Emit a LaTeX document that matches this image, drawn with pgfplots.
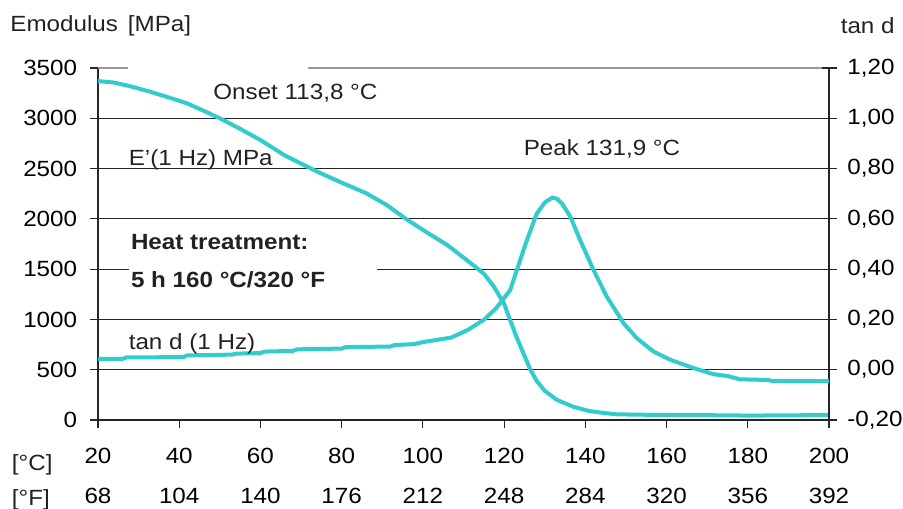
\documentclass[border=0pt]{standalone}
\usepackage{pgfplots}
\pgfplotsset{compat=1.18}
\usepackage{fontspec}
\setmainfont{Liberation Sans}[FakeStretch=1.1]
\definecolor{turq}{RGB}{51,204,204}
\definecolor{ink}{RGB}{34,34,34}
\newcommand\fs{\fontsize{11}{13}\selectfont}

% E' (1 Hz) in MPa
\pgfplotstableread{
T E
20 3370
24 3355
28 3318
33 3262
38 3200
42 3147
46 3075
50 3000
55 2895
60 2784
66 2630
70 2550
74 2469
80 2360
86 2256
91 2140
96 1995
101 1865
106 1740
110 1615
113 1520
115 1455
117.5 1325
120 1155
123 830
126.5 497
128 390
130 290
133 200
137 132
141 89
145 68
148 56
155 52
160 50
170 48
180 44
190 46
200 50
}\emod

% tan d (1 Hz)
\pgfplotstableread{
T tand
20 0.043
26 0.043
27 0.049
41 0.050
42 0.057
53 0.060
54 0.064
60 0.066
61 0.072
68 0.075
69 0.081
80 0.084
81 0.090
92 0.092
93 0.098
98 0.102
100 0.110
104 0.120
107 0.128
111 0.158
115 0.198
118 0.244
120 0.285
121.5 0.317
123 0.390
125.5 0.510
128 0.620
130 0.665
131.9 0.685
133 0.680
134.2 0.662
136.3 0.609
138.7 0.516
142 0.397
145.3 0.290
149.4 0.185
152.7 0.125
156.8 0.072
161 0.039
167.5 0.002
171.6 -0.018
175 -0.025
178 -0.038
185 -0.041
186 -0.045
200 -0.045
}\tand

\begin{document}
\begin{tikzpicture}
\begin{axis}[
  at={(0,0)}, anchor=south west,
  scale only axis, width=365.5pt, height=176pt,
  xmin=20, xmax=200, ymin=0, ymax=3500,
  axis x line*=bottom, axis y line*=left,
  axis line style={line width=0.75pt, color=black!85},
  xtick={20,40,...,200},
  xticklabels={20,40,60,80,100,120,140,160,180,200},
  ytick={0,500,...,3000},
  yticklabels={0,500,1000,1500,2000,2500,3000},
  extra y ticks={3500}, extra y tick labels={3500},
  extra y tick style={major grid style={gray!80, line width=0.75pt}},
  ymajorgrids, major grid style={black!85, line width=0.5pt},
  tick align=outside, major tick length=4pt,
  tick style={black!85, line width=0.6pt},
  tick label style={font=\fs, text=black},
  yticklabel style={anchor=east, inner sep=0pt, xshift=-6.25pt},
  xticklabel style={anchor=base, inner sep=0pt, yshift=-17.65pt},
  clip=false,
]
\addplot[turq, line width=2pt] table[x=T, y=E] {\emod};
\end{axis}

% gaps in the grid behind the text boxes
\fill[white] (15pt,174.5pt) rectangle (105pt,177.5pt);
\fill[white] (15.6pt,73.5pt) rectangle (139.6pt,76.5pt);

\begin{axis}[
  at={(0,0)}, anchor=south west,
  scale only axis, width=365.5pt, height=176pt,
  xmin=20, xmax=200, ymin=-0.2, ymax=1.2,
  axis x line*=bottom, axis y line*=right,
  x axis line style={draw=none},
  y axis line style={line width=0.75pt, color=black!85},
  xtick={20,40,...,200},
  xticklabels={68,104,140,176,212,248,284,320,356,392},
  major x tick style={draw=none},
  ytick={-0.2,0,0.2,0.4,0.6,0.8,1,1.2},
  yticklabels={{-0,20},{0,00},{0,20},{0,40},{0,60},{0,80},{1,00},{1,20}},
  tick align=center, major tick length=7.5pt,
  tick style={black!85, line width=0.6pt},
  tick label style={font=\fs, text=black},
  yticklabel style={anchor=west, inner sep=0pt, xshift=5.25pt},
  xticklabel style={anchor=base, inner sep=0pt, yshift=-37.9pt},
  clip=false,
]
\addplot[turq, line width=2pt] table[x=T, y=tand] {\tand};
\end{axis}

\begin{scope}[every node/.style={inner sep=0pt, font=\fs, text=ink}]
\node[anchor=base west] at (-44pt,194.2pt) {Emodulus\hspace{0.45em}[MPa]};
\node[anchor=base east] at (398.5pt,193.3pt) {tan d};
\node[anchor=base west] at (57.5pt,160.2pt) {Onset 113,8 °C};
\node[anchor=base west] at (15.2pt,127.2pt) {E’(1 Hz) MPa};
\node[anchor=base west] at (212.7pt,132pt) {Peak 131,9 °C};
\node[anchor=base west, font=\fs\bfseries] at (16.3pt,85.3pt) {Heat treatment:};
\node[anchor=base west, font=\fs\bfseries] at (16.3pt,66.3pt) {5 h 160 °C/320 °F};
\node[anchor=base west] at (15.2pt,35.3pt) {tan d (1 Hz)};
\node[anchor=base west] at (-43.2pt,-25pt) {[°C]};
\node[anchor=base west] at (-43.2pt,-42.6pt) {[°F]};
\end{scope}

\pgfresetboundingbox
\path (-49pt,-44pt) rectangle (402.5pt,210pt);
\end{tikzpicture}
\end{document}
